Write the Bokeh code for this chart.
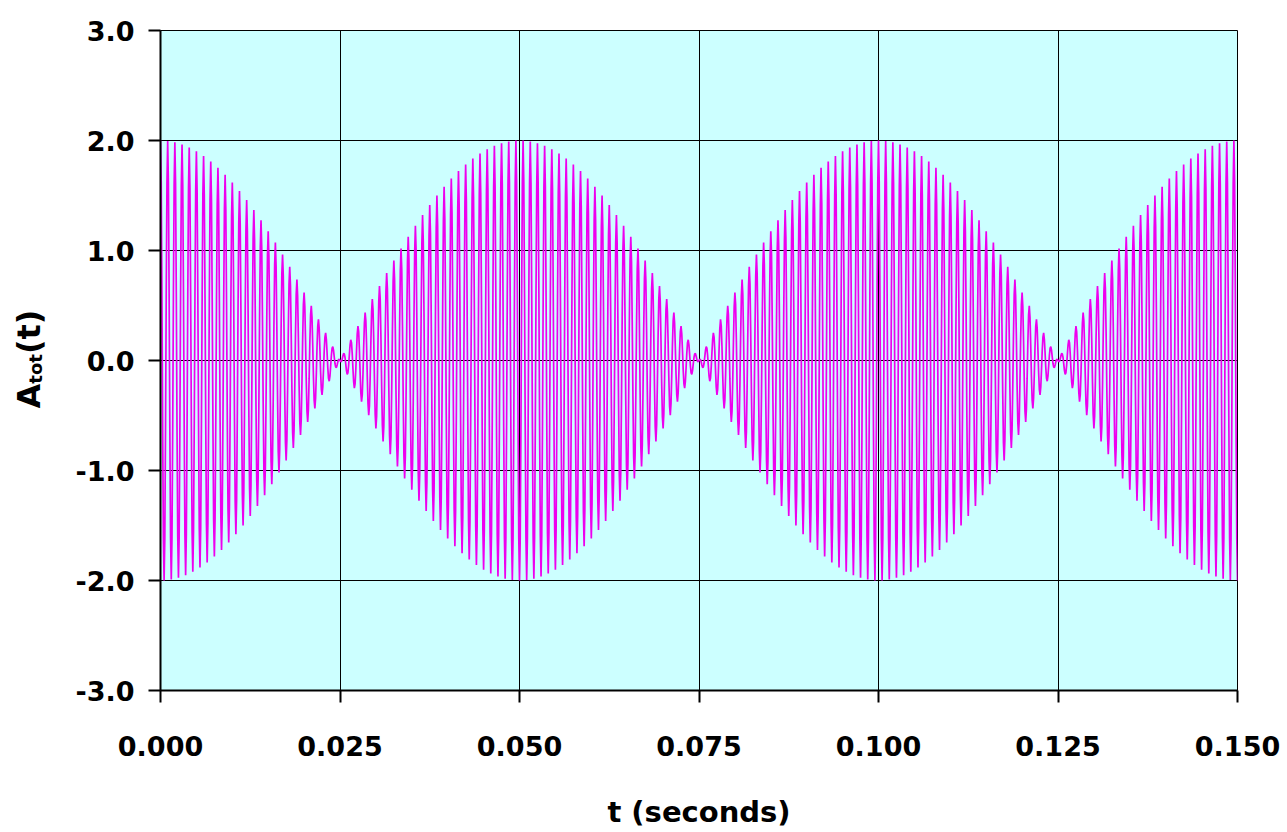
import numpy as np
from bokeh.plotting import figure
from bokeh.layouts import row
from bokeh.models import ColumnDataSource, Label, FixedTicker, NumeralTickFormatter
from bokeh.embed import file_html
from bokeh.resources import INLINE

# --- data ---
# two equal-amplitude tones whose sum beats: envelope zeros at 0.025, 0.075, 0.125 s
tone_freqs_hz = [990.0, 1010.0]
tone_amps = [1.0, 1.0]
t_start, t_end, t_step = 0.0, 0.15, 0.0001
x_ticks = [0.000, 0.025, 0.050, 0.075, 0.100, 0.125, 0.150]
y_ticks = [-3.0, -2.0, -1.0, 0.0, 1.0, 2.0, 3.0]

t = np.arange(t_start, t_end + t_step / 2, t_step)
a_tot = sum(a * np.cos(2 * np.pi * f * t) for a, f in zip(tone_amps, tone_freqs_hz))
src = ColumnDataSource(dict(t=t, a=a_tot))

FONT = "DejaVu Sans"
LAB_W = 56
TOP, BOTTOM = 30, 142

p = figure(width=1287 - LAB_W, height=832, output_backend="svg", toolbar_location=None,
           x_range=(0.0, 0.15), y_range=(-3.0, 3.0),
           min_border_left=160 - LAB_W, min_border_right=50,
           min_border_top=TOP, min_border_bottom=BOTTOM)
p.background_fill_color = "#CCFFFF"
p.border_fill_color = "white"
p.outline_line_color = "black"
p.outline_line_width = 1

p.line("t", "a", source=src, line_color="#EE00EE", line_width=1.7)

for ax in (p.xaxis[0], p.yaxis[0]):
    ax.axis_line_color = "black"
    ax.axis_line_width = 2
    ax.major_tick_line_color = "black"
    ax.major_tick_line_width = 2
    ax.major_tick_out = 12
    ax.major_tick_in = 0
    ax.minor_tick_line_color = None
    ax.major_label_text_font = FONT
    ax.major_label_text_font_style = "bold"
    ax.major_label_text_font_size = "27px"
    ax.major_label_text_color = "black"

p.xaxis.ticker = FixedTicker(ticks=x_ticks)
p.yaxis.ticker = FixedTicker(ticks=y_ticks)
p.xaxis.formatter = NumeralTickFormatter(format="0.000")
p.yaxis.formatter = NumeralTickFormatter(format="0.0")
p.xaxis.major_label_standoff = 33
p.yaxis.major_label_standoff = 14

p.xaxis.axis_label = "t (seconds)"
p.xaxis.axis_label_text_font = FONT
p.xaxis.axis_label_text_font_style = "bold"
p.xaxis.axis_label_text_font_size = "29px"
p.xaxis.axis_label_text_color = "black"
p.xaxis.axis_label_standoff = 36

p.xgrid.ticker = FixedTicker(ticks=x_ticks)
p.ygrid.ticker = FixedTicker(ticks=y_ticks)
for g in (p.xgrid[0], p.ygrid[0]):
    g.grid_line_color = "black"
    g.grid_line_width = 1
    g.grid_line_alpha = 1.0

# narrow panel on the left carrying the y axis title  A_tot(t)
lab = figure(width=LAB_W, height=832, output_backend="svg", toolbar_location=None,
             x_range=(0, 1), y_range=p.y_range,
             min_border_left=0, min_border_right=0,
             min_border_top=TOP, min_border_bottom=BOTTOM)
lab.axis.visible = False
lab.grid.visible = False
lab.outline_line_color = None
lab.background_fill_color = "white"
lab.border_fill_color = "white"

lab_common = dict(x_units="screen", y_units="data", angle=np.pi / 2,
                  text_font=FONT, text_font_style="bold", text_color="black",
                  text_align="center", text_baseline="middle")
lab.add_layout(Label(x=28, y=-0.324, text="A", text_font_size="32px", **lab_common))
lab.add_layout(Label(x=35, y=-0.076, text="tot", text_font_size="18px", **lab_common))
lab.add_layout(Label(x=28, y=0.261, text="(t)", text_font_size="32px", **lab_common))

layout = row(lab, p, spacing=0)
open("out.html", "w").write(file_html(layout, INLINE))
